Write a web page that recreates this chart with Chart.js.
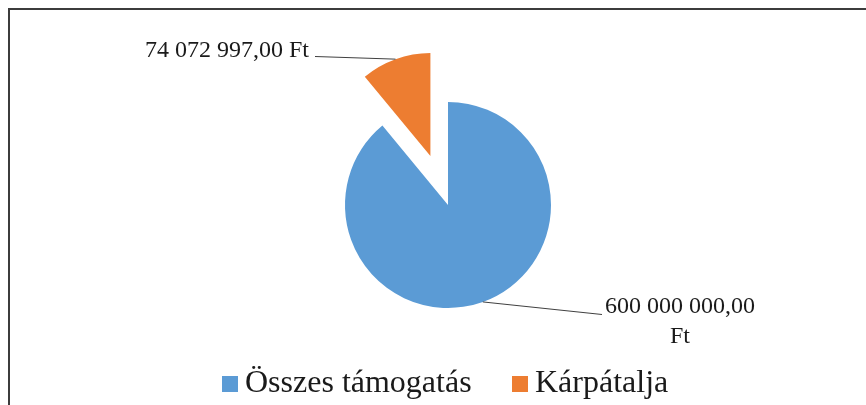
<!DOCTYPE html>
<html><head><meta charset="utf-8">
<script src="https://cdn.jsdelivr.net/npm/chart.js@4"></script>
<style>html,body{margin:0;padding:0;background:#fff}</style>
</head><body>
<canvas id="c" width="866" height="405"></canvas>
<script>
const categories = ['Összes támogatás', 'Kárpátalja'];
const values = [600000000, 74072997];

function fmtFt(v) {
  const p = v.toFixed(2).split('.');
  return p[0].replace(/\B(?=(\d{3})+(?!\d))/g, ' ') + ',' + p[1] + ' Ft';
}

const EXPLODE = [0, 52];
const SERIF = '"Liberation Serif", "Times New Roman", serif';

const framePlugin = {
  id: 'frame',
  beforeDraw(chart) {
    const ctx = chart.ctx;
    ctx.save();
    ctx.fillStyle = '#fff';
    ctx.fillRect(0, 0, chart.width, chart.height);
    ctx.strokeStyle = '#3c3c3c';
    ctx.lineWidth = 2;
    ctx.beginPath();
    ctx.moveTo(9, chart.height);
    ctx.lineTo(9, 9);
    ctx.lineTo(chart.width, 9);
    ctx.stroke();
    ctx.restore();
  }
};

const explodePlugin = {
  id: 'explode',
  beforeDatasetDraw(chart, args) {
    const ctx = chart.ctx;
    args.meta.data.forEach((arc, i) => {
      const off = EXPLODE[i] || 0;
      const mid = (arc.startAngle + arc.endAngle) / 2;
      ctx.save();
      ctx.translate(Math.cos(mid) * off, Math.sin(mid) * off);
      arc.draw(ctx);
      ctx.restore();
    });
    return false;
  }
};

function anchorOf(arc, i) {
  const off = EXPLODE[i] || 0;
  const mid = (arc.startAngle + arc.endAngle) / 2;
  return {
    x: arc.x + Math.cos(mid) * (off + arc.outerRadius),
    y: arc.y + Math.sin(mid) * (off + arc.outerRadius)
  };
}

const labelPlugin = {
  id: 'labels',
  afterDatasetsDraw(chart) {
    const ctx = chart.ctx;
    const arcs = chart.getDatasetMeta(0).data;
    ctx.save();
    ctx.strokeStyle = '#404040';
    ctx.lineWidth = 1;
    ctx.fillStyle = '#1a1a1a';
    ctx.font = '24px ' + SERIF;
    ctx.textBaseline = 'alphabetic';

    // Kárpátalja label (upper left)
    const a1 = anchorOf(arcs[1], 1);
    ctx.beginPath();
    ctx.moveTo(315, 56.5);
    ctx.lineTo(a1.x, a1.y);
    ctx.stroke();
    ctx.textAlign = 'right';
    ctx.fillText(fmtFt(values[1]), 309, 57);

    // Összes támogatás label (lower right)
    const a0 = anchorOf(arcs[0], 0);
    ctx.beginPath();
    ctx.moveTo(a0.x, a0.y);
    ctx.lineTo(602, 314.5);
    ctx.stroke();
    const txt = fmtFt(values[0]);
    const cut = txt.lastIndexOf(' ');
    ctx.textAlign = 'center';
    ctx.fillText(txt.slice(0, cut), 680, 313);
    ctx.fillText(txt.slice(cut + 1), 680, 343);
    ctx.restore();
  }
};

const legendPlugin = {
  id: 'customLegend',
  afterDraw(chart) {
    const ctx = chart.ctx;
    const ds = chart.data.datasets[0];
    const pos = [[222, 245], [512, 535]];
    ctx.save();
    ctx.font = '32px ' + SERIF;
    ctx.textBaseline = 'alphabetic';
    ctx.textAlign = 'left';
    chart.data.labels.forEach((lab, i) => {
      ctx.fillStyle = ds.backgroundColor[i];
      ctx.fillRect(pos[i][0], 376, 16, 16);
      ctx.fillStyle = '#1a1a1a';
      ctx.fillText(lab, pos[i][1], 392);
    });
    ctx.restore();
  }
};

new Chart(document.getElementById('c'), {
  type: 'pie',
  data: {
    labels: categories,
    datasets: [{
      data: values,
      backgroundColor: ['#5B9BD5', '#ED7D31'],
      borderWidth: 0,
      hoverOffset: 0
    }]
  },
  options: {
    responsive: false,
    animation: false,
    devicePixelRatio: 1,
    layout: { padding: { left: 345, right: 315, top: 102, bottom: 97 } },
    plugins: {
      legend: { display: false },
      tooltip: { enabled: false }
    }
  },
  plugins: [framePlugin, explodePlugin, labelPlugin, legendPlugin]
});
</script>
</body></html>
